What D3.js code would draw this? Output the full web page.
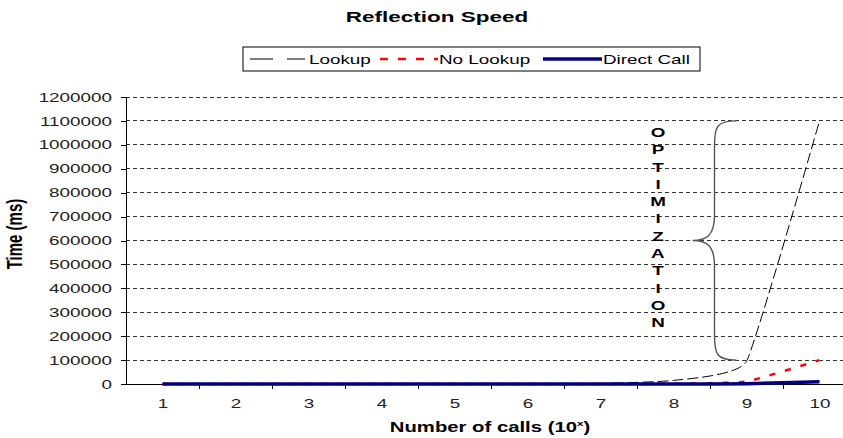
<!DOCTYPE html>
<html lang="en">
<head>
    <meta charset="UTF-8">
    <title>Reflection Speed</title>
    <script src="https://d3js.org/d3.v7.min.js"></script>
    <style>
        body {
            margin: 0;
            background: #ffffff;
            font-family: "Liberation Sans", Arial, sans-serif;
        }
        svg { display: block; }
        .axis path, .axis line {
            stroke: #000;
            shape-rendering: crispEdges;
        }
        .axis text {
            font-size: 13px;
            fill: #222;
            font-family: "Liberation Sans", Arial, sans-serif;
        }
        .grid line {
            stroke: #333;
            stroke-dasharray: 4,3;
            shape-rendering: crispEdges;
        }
    </style>
</head>
<body>
<div id="chart"></div>
<script>
    // data
    const calls = [1, 2, 3, 4, 5, 6, 7, 8, 9, 10];
    const lookup = [0, 0, 1, 11, 110, 1100, 2000, 15000, 95000, 1100000];
    const noLookup = [0, 0, 0, 0, 1, 10, 100, 1000, 10000, 100000];
    const directCall = [0, 0, 0, 0, 0, 1, 10, 100, 1000, 9000];
    const yTicks = [0, 100000, 200000, 300000, 400000, 500000, 600000,
                    700000, 800000, 900000, 1000000, 1100000, 1200000];
    const seriesNames = ["Lookup", "No Lookup", "Direct Call"];
    const optimizationText = "OPTIMIZATION";

    const W = 843, H = 438;
    const margin = { top: 97, left: 126, bottom: 54 };
    const bandW = 73;
    const plotH = H - margin.top - margin.bottom;
    const k = 1.45; // the original text is drawn wide

    // widen a text selection around a given origin
    function widen(sel, origin) {
        sel.style("transform-box", "fill-box")
            .style("transform-origin", origin)
            .style("transform", `scaleX(${k})`);
    }

    const svg = d3.select("#chart").append("svg")
        .attr("width", W)
        .attr("height", H);

    const x = d3.scaleLinear()
        .domain([0.5, 10.5])
        .range([margin.left, margin.left + bandW * 10]);
    const y = d3.scaleLinear()
        .domain([0, 1200000])
        .range([margin.top + plotH, margin.top]);

    // title
    svg.append("text")
        .attr("x", 437)
        .attr("y", 22)
        .attr("text-anchor", "middle")
        .style("font-weight", "bold")
        .style("font-size", "15.5px")
        .text("Reflection Speed")
        .call(widen, "50% 50%");

    // gridlines
    svg.append("g")
        .attr("class", "grid")
        .selectAll("line")
        .data(yTicks.slice(1))
        .enter()
        .append("line")
        .attr("x1", margin.left)
        .attr("x2", margin.left + bandW * 10)
        .attr("y1", d => y(d))
        .attr("y2", d => y(d));

    // y axis
    svg.append("g")
        .attr("class", "axis")
        .attr("transform", `translate(${margin.left},0)`)
        .call(d3.axisLeft(y).tickValues(yTicks).tickSize(5).tickPadding(9).tickFormat(d3.format("d")))
        .call(g => g.select(".domain").attr("d", `M0,${y(1200000)}V${y(0)}`))
        .call(g => g.selectAll("text").call(widen, "100% 50%"));

    // x axis: ticks between categories
    svg.append("g")
        .attr("class", "axis")
        .attr("transform", `translate(0,${y(0)})`)
        .call(d3.axisBottom(x).tickValues(d3.range(1.5, 10.5, 1)).tickSize(5).tickFormat(""))
        .call(g => g.select(".domain").attr("d", `M${margin.left},0H${W}`));

    // x labels
    svg.append("g")
        .attr("class", "axis")
        .attr("transform", `translate(0,${y(0)})`)
        .call(d3.axisBottom(x).tickValues(calls).tickSize(0).tickPadding(15))
        .call(g => g.select(".domain").remove())
        .call(g => g.selectAll("text").call(widen, "50% 50%"));

    // axis titles
    const xt = svg.append("text")
        .attr("x", 490)
        .attr("y", 432)
        .attr("text-anchor", "middle")
        .style("font-weight", "bold")
        .style("font-size", "14px");
    xt.append("tspan").text("Number of calls (10");
    xt.append("tspan").attr("dy", -6).style("font-size", "8px").text("x");
    xt.append("tspan").attr("dy", 6).text(")");
    xt.call(widen, "50% 50%");

    svg.append("text")
        .attr("transform", `translate(22,234) scale(${k},1) rotate(-90)`)
        .attr("text-anchor", "middle")
        .style("font-weight", "bold")
        .style("font-size", "15px")
        .text("Time (ms)");

    // lines (smoothed like the spreadsheet did)
    const line = d3.line()
        .x((d, i) => x(calls[i]))
        .y(d => y(d))
        .curve(d3.curveCardinal.tension(0.65));

    svg.append("path")
        .datum(lookup)
        .attr("d", line)
        .attr("fill", "none")
        .attr("stroke", "#000")
        .attr("stroke-width", 1)
        .attr("stroke-dasharray", "11,4");

    svg.append("path")
        .datum(noLookup)
        .attr("d", line)
        .attr("fill", "none")
        .attr("stroke", "#ff0000")
        .attr("stroke-width", 2.5)
        .attr("stroke-dasharray", "6,10");

    svg.append("path")
        .datum(directCall)
        .attr("d", line)
        .attr("fill", "none")
        .attr("stroke", "#000080")
        .attr("stroke-width", 3.5);

    // brace annotation
    const bx = x(9) - 10;
    const yt = y(1100000), yb = y(100000), ym = y(600000);
    const brace = `M${bx},${yt} C${bx - 20},${yt} ${bx - 22},${yt + 6} ${bx - 22},${yt + 25}
        L${bx - 22},${ym - 25} C${bx - 22},${ym - 5} ${bx - 30},${ym} ${bx - 44},${ym}
        C${bx - 30},${ym} ${bx - 22},${ym + 5} ${bx - 22},${ym + 25}
        L${bx - 22},${yb - 25} C${bx - 22},${yb - 6} ${bx - 20},${yb} ${bx},${yb}`;
    svg.append("path")
        .attr("d", brace)
        .attr("fill", "none")
        .attr("stroke", "#555")
        .attr("stroke-width", 1.4);

    svg.append("g")
        .selectAll("text")
        .data(optimizationText.split(""))
        .enter()
        .append("text")
        .attr("x", 658)
        .attr("y", (d, i) => 137 + i * 17.3)
        .attr("text-anchor", "middle")
        .style("font-weight", "bold")
        .style("font-size", "13px")
        .text(d => d)
        .call(widen, "50% 50%");

    // legend
    const lg = svg.append("g").attr("transform", "translate(243,47)");
    lg.append("rect")
        .attr("width", 457)
        .attr("height", 24)
        .attr("fill", "#fff")
        .attr("stroke", "#000");
    const legendItems = [
        { name: seriesNames[0], x: 7, x2: 62, tx: 66, color: "#000", w: 1, dash: "23,14" },
        { name: seriesNames[1], x: 137, x2: 195, tx: 196, color: "#ff0000", w: 2.5, dash: "8,10" },
        { name: seriesNames[2], x: 300, x2: 359, tx: 360, color: "#000080", w: 3.5, dash: null }
    ];
    legendItems.forEach(it => {
        lg.append("line")
            .attr("x1", it.x)
            .attr("x2", it.x2)
            .attr("y1", 12)
            .attr("y2", 12)
            .attr("stroke", it.color)
            .attr("stroke-width", it.w)
            .attr("stroke-dasharray", it.dash);
        lg.append("text")
            .attr("x", it.tx)
            .attr("y", 17)
            .style("font-size", "13px")
            .text(it.name)
            .call(widen, "0% 50%");
    });
</script>
</body>
</html>
